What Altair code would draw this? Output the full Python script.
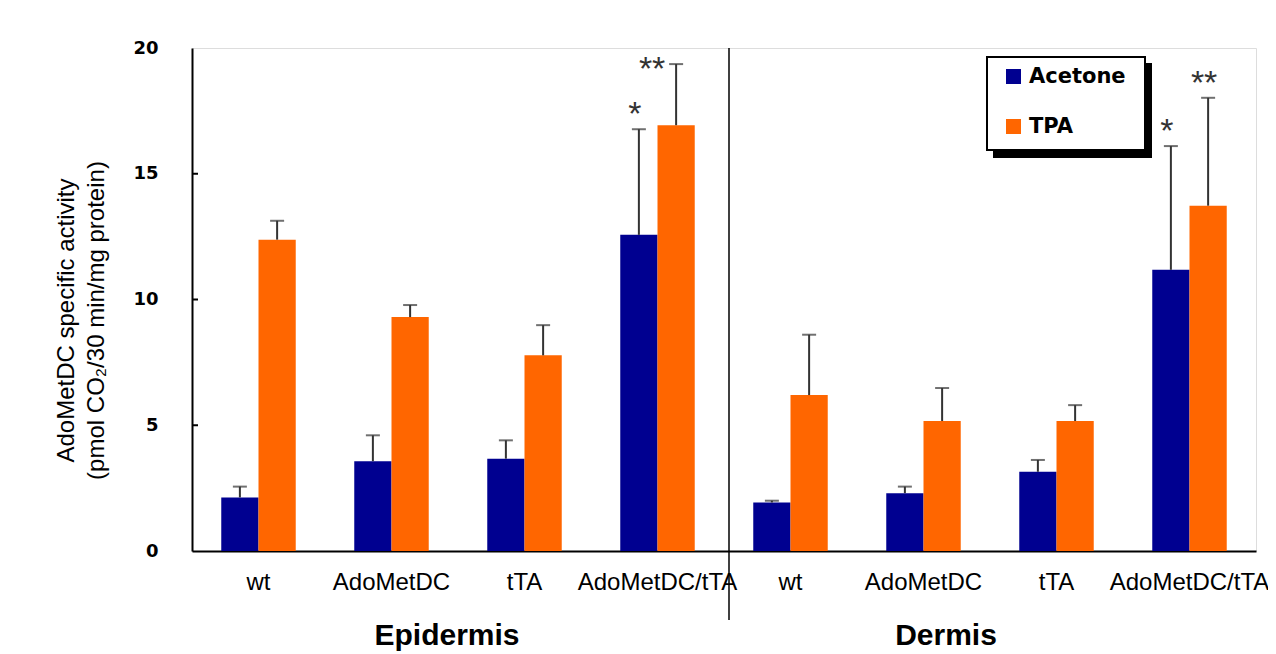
import altair as alt
import pandas as pd

tissues = ["Epidermis", "Epidermis", "Epidermis", "Epidermis", "Dermis", "Dermis", "Dermis", "Dermis"]
genotypes = ["wt", "AdoMetDC", "tTA", "AdoMetDC/tTA", "wt", "AdoMetDC", "tTA", "AdoMetDC/tTA"]
series_names = ["Acetone", "TPA"]
acetone_mean = [2.13, 3.57, 3.67, 12.57, 1.93, 2.30, 3.15, 11.18]
acetone_upper = [2.56, 4.60, 4.40, 16.77, 2.00, 2.56, 3.62, 16.10]
tpa_mean = [12.38, 9.30, 7.78, 16.93, 6.20, 5.17, 5.17, 13.73]
tpa_upper = [13.13, 9.78, 8.98, 19.36, 8.60, 6.48, 5.80, 18.02]
acetone_stars = ["", "", "", "*", "", "", "", "*"]
tpa_stars = ["", "", "", "**", "", "", "", "**"]
group_titles = ["Epidermis", "Dermis"]
y_ticks = [0, 5, 10, 15, 20]
inner_ticks = [5, 10, 15]

keys = [f"{t}|{g}" for t, g in zip(tissues, genotypes)]
rows = []
for i, k in enumerate(keys):
    rows.append({"key": k, "tissue": tissues[i], "series": "Acetone", "value": acetone_mean[i],
                 "upper": acetone_upper[i], "star": acetone_stars[i]})
    rows.append({"key": k, "tissue": tissues[i], "series": "TPA", "value": tpa_mean[i],
                 "upper": tpa_upper[i], "star": tpa_stars[i]})
df = pd.DataFrame(rows)

FONT = "Liberation Sans"
BOLDFONT = "DejaVu Sans"
yaxis = alt.Axis(values=y_ticks, tickSize=0, labelPadding=34, labelFontSize=18, labelFontWeight="bold",
                 labelColor="black", labelFont=BOLDFONT, grid=False, domainColor="black", domainWidth=2,
                 title=["AdoMetDC specific activity", "(pmol CO\u2082/30 min/mg protein)"],
                 titleFontSize=24, titleFontWeight="normal", titleFont=FONT, titleColor="black",
                 titlePadding=24, titleLineHeight=30, titleY=272)
yscale = alt.Scale(domain=[0, 20], nice=False)

X = alt.X("key:N", sort=keys,
          scale=alt.Scale(paddingInner=0.44, paddingOuter=0.22),
          axis=alt.Axis(labelExpr="split(datum.label, '|')[1]", title=None, labelAngle=0, ticks=False,
                        labelPadding=19, labelFontSize=24, labelFont=FONT, labelColor="black",
                        domainColor="black", domainWidth=2, labelLimit=300))
XO = alt.XOffset("series:N", sort=series_names, scale=alt.Scale(paddingInner=0, paddingOuter=0))

base = alt.Chart(df)

bars = base.mark_bar().encode(
    x=X, xOffset=XO,
    y=alt.Y("value:Q", scale=yscale, axis=yaxis),
    color=alt.Color("series:N", sort=series_names,
                    scale=alt.Scale(domain=series_names, range=["#000090", "#FF6600"]),
                    legend=alt.Legend(title=None, orient="none", legendX=811, legendY=18,
                                      symbolType="square", symbolSize=225, symbolStrokeWidth=0,
                                      labelFontSize=21, labelFontWeight="bold", labelFont=BOLDFONT,
                                      labelColor="black", rowPadding=28, padding=0, labelOffset=5)),
)

err = base.mark_rule(color="#333333", strokeWidth=2).encode(
    x=X, xOffset=XO,
    y=alt.Y("value:Q", scale=yscale, axis=yaxis),
    y2="upper:Q",
)

caps = base.mark_tick(color="#333333", thickness=2, size=14).encode(
    x=X, xOffset=XO,
    y=alt.Y("upper:Q", scale=yscale, axis=yaxis),
)

star_text = dict(fontSize=34, font=FONT, color="#333333", baseline="middle", align="center")
stars_main = base.transform_filter(
    "datum.star != '' && !(datum.tissue == 'Epidermis' && datum.series == 'TPA')"
).mark_text(dy=-14, dx=-4, **star_text).encode(
    x=X, xOffset=XO, y=alt.Y("upper:Q", scale=yscale, axis=yaxis), text="star:N"
)
stars_epi_tpa = base.transform_filter(
    "datum.star != '' && datum.tissue == 'Epidermis' && datum.series == 'TPA'"
).mark_text(dy=6, dx=-24, **star_text).encode(
    x=X, xOffset=XO, y=alt.Y("upper:Q", scale=yscale, axis=yaxis), text="star:N"
)

ticks_in = alt.Chart(pd.DataFrame({"value": inner_ticks})).mark_rule(color="black", strokeWidth=2).encode(
    y=alt.Y("value:Q", scale=yscale, axis=yaxis), x=alt.value(0), x2=alt.value(6)
)

one = pd.DataFrame({"a": [0]})
divider = alt.Chart(one).mark_rule(color="black", strokeWidth=1.5).encode(
    x=alt.value(537), y=alt.value(0), y2=alt.value(572)
)
shadow = alt.Chart(one).mark_rect(color="black").encode(
    x=alt.value(801), x2=alt.value(960), y=alt.value(15), y2=alt.value(110)
)
box = alt.Chart(one).mark_rect(fill="white", stroke="black", strokeWidth=2).encode(
    x=alt.value(795), x2=alt.value(953), y=alt.value(9), y2=alt.value(102)
)

titles_df = pd.DataFrame({"t": group_titles})
title_style = dict(fontSize=30, fontWeight="bold", font=FONT, color="black", align="center", baseline="alphabetic")
t_epi = alt.Chart(titles_df).transform_filter(alt.datum.t == group_titles[0]).mark_text(**title_style).encode(
    x=alt.value(255), y=alt.value(597), text="t:N")
t_der = alt.Chart(titles_df).transform_filter(alt.datum.t == group_titles[1]).mark_text(**title_style).encode(
    x=alt.value(754), y=alt.value(597), text="t:N")

chart = alt.layer(
    bars, err, caps, stars_main, stars_epi_tpa, ticks_in, divider, shadow, box, t_epi, t_der
).properties(
    width=1064, height=503,
    autosize=alt.AutoSizeParams(type="none"),
    padding={"left": 184, "top": 40, "right": 12, "bottom": 103},
).configure_view(stroke="#333333", strokeWidth=2).configure(background="white")

chart.save("out.html", embed_options={"renderer": "svg", "actions": False})
